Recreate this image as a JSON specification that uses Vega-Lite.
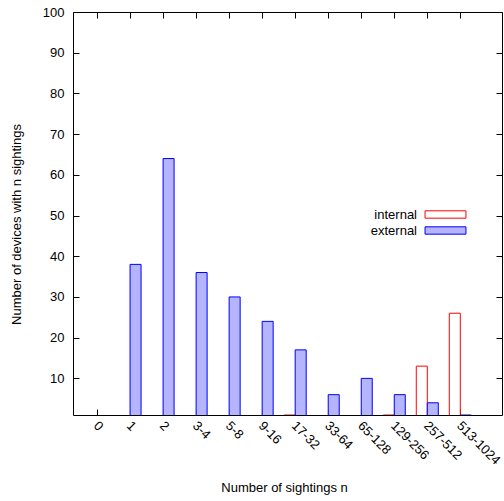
{
  "$schema": "https://vega.github.io/schema/vega-lite/v6.json",
  "width": 429,
  "height": 403,
  "autosize": "none",
  "padding": {"left": 73, "top": 12, "right": 2, "bottom": 86},
  "background": "white",
  "config": {
    "view": {"stroke": "black", "strokeWidth": 1},
    "font": "Liberation Sans",
    "axis": {
      "domain": false,
      "grid": false,
      "labelFont": "Liberation Sans",
      "labelFontSize": 13,
      "labelColor": "black",
      "tickColor": "black",
      "tickWidth": 1,
      "titleFont": "Liberation Sans",
      "titleFontSize": 13,
      "titleFontWeight": "normal",
      "titleColor": "black",
      "zindex": 1
    },
    "legend": {"labelFont": "Liberation Sans", "labelFontSize": 13, "labelColor": "black"}
  },
  "data": {
    "values": [
      {"bin": "0", "series": "internal", "count": 0},
      {"bin": "1", "series": "internal", "count": 0},
      {"bin": "2", "series": "internal", "count": 0},
      {"bin": "3-4", "series": "internal", "count": 0},
      {"bin": "5-8", "series": "internal", "count": 0},
      {"bin": "9-16", "series": "internal", "count": 0},
      {"bin": "17-32", "series": "internal", "count": 1},
      {"bin": "33-64", "series": "internal", "count": 0},
      {"bin": "65-128", "series": "internal", "count": 0},
      {"bin": "129-256", "series": "internal", "count": 1},
      {"bin": "257-512", "series": "internal", "count": 13},
      {"bin": "513-1024", "series": "internal", "count": 26},
      {"bin": "0", "series": "external", "count": 0},
      {"bin": "1", "series": "external", "count": 38},
      {"bin": "2", "series": "external", "count": 64},
      {"bin": "3-4", "series": "external", "count": 36},
      {"bin": "5-8", "series": "external", "count": 30},
      {"bin": "9-16", "series": "external", "count": 24},
      {"bin": "17-32", "series": "external", "count": 17},
      {"bin": "33-64", "series": "external", "count": 6},
      {"bin": "65-128", "series": "external", "count": 10},
      {"bin": "129-256", "series": "external", "count": 6},
      {"bin": "257-512", "series": "external", "count": 4},
      {"bin": "513-1024", "series": "external", "count": 1}
    ]
  },
  "layer": [
    {
      "mark": {"type": "bar", "clip": true, "strokeWidth": 1},
      "encoding": {
        "x": {
          "field": "bin",
          "type": "nominal",
          "sort": ["0", "1", "2", "3-4", "5-8", "9-16", "17-32", "33-64", "65-128", "129-256", "257-512", "513-1024"],
          "scale": {"paddingInner": 0, "paddingOuter": 0.495, "align": 0.23},
          "axis": {
            "orient": "bottom",
            "labelAngle": 45,
            "labelAlign": "left",
            "labelBaseline": "top",
            "labelOffset": 3,
            "tickSize": -6,
            "labelPadding": 10,
            "title": "Number of sightings n",
            "titleX": 211,
            "titleY": 72,
            "titleBaseline": "middle"
          }
        },
        "xOffset": {
          "field": "series",
          "type": "nominal",
          "sort": ["internal", "external"],
          "scale": {"paddingInner": 0, "paddingOuter": 0.5}
        },
        "y": {
          "field": "count",
          "type": "quantitative",
          "scale": {"domain": [1, 100], "nice": false, "zero": false},
          "axis": {
            "orient": "left",
            "values": [10, 20, 30, 40, 50, 60, 70, 80, 90, 100],
            "tickSize": -6,
            "labelPadding": 15,
            "labelBaseline": "middle",
            "title": "Number of devices with n sightings",
            "titleX": -57,
            "titleY": 212,
            "titleAngle": -90,
            "titleBaseline": "middle"
          }
        },
        "fill": {
          "field": "series",
          "type": "nominal",
          "scale": {"domain": ["internal", "external"], "range": ["white", "#b4b4ff"]},
          "legend": {
            "title": null,
            "orient": "none",
            "legendX": 366,
            "legendY": 196,
            "padding": 0,
            "symbolType": "M-5,-0.9H5V0.9H-5Z",
            "symbolSize": 67,
            "symbolStrokeWidth": 1,
            "symbolOpacity": 1,
            "labelAlign": "right",
            "labelOffset": -35,
            "labelFontSize": 13,
            "rowPadding": 2
          }
        },
        "stroke": {
          "field": "series",
          "type": "nominal",
          "scale": {"domain": ["internal", "external"], "range": ["#ff0000", "#0000ff"]},
          "legend": {
            "title": null,
            "orient": "none",
            "legendX": 366,
            "legendY": 196,
            "padding": 0,
            "symbolType": "M-5,-0.9H5V0.9H-5Z",
            "symbolSize": 67,
            "symbolStrokeWidth": 1,
            "symbolOpacity": 1,
            "labelAlign": "right",
            "labelOffset": -35,
            "labelFontSize": 13,
            "rowPadding": 2
          }
        }
      }
    },
    {
      "mark": {"type": "bar", "opacity": 0},
      "encoding": {
        "x": {
          "field": "bin",
          "type": "nominal",
          "sort": ["0", "1", "2", "3-4", "5-8", "9-16", "17-32", "33-64", "65-128", "129-256", "257-512", "513-1024"],
          "axis": {"orient": "top", "labels": false, "tickSize": -6, "title": null}
        },
        "y": {
          "field": "count",
          "type": "quantitative",
          "axis": {
            "orient": "right",
            "labels": false,
            "tickSize": -6,
            "title": null,
            "values": [10, 20, 30, 40, 50, 60, 70, 80, 90, 100]
          }
        }
      }
    }
  ],
  "resolve": {"axis": {"x": "independent", "y": "independent"}}
}
